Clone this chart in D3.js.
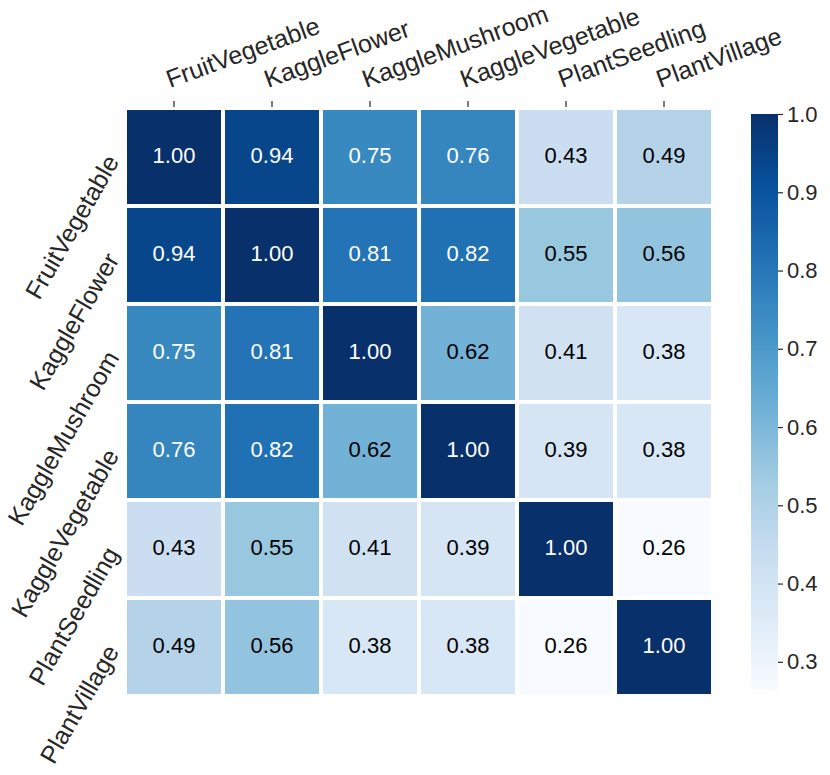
<!DOCTYPE html>
<html>
<head>
<meta charset="utf-8">
<script src="https://cdn.jsdelivr.net/npm/d3@7/dist/d3.min.js"></script>
<style>
  html, body { margin: 0; padding: 0; background: #fff; }
  svg text { font-family: "Liberation Sans", Arial, Helvetica, sans-serif; }
</style>
</head>
<body>
<svg id="chart" width="830" height="775"></svg>
<script>
// ---- data ----
const categories = ["FruitVegetable", "KaggleFlower", "KaggleMushroom", "KaggleVegetable", "PlantSeedling", "PlantVillage"];
const rowFruitVegetable  = [1.00, 0.94, 0.75, 0.76, 0.43, 0.49];
const rowKaggleFlower    = [0.94, 1.00, 0.81, 0.82, 0.55, 0.56];
const rowKaggleMushroom  = [0.75, 0.81, 1.00, 0.62, 0.41, 0.38];
const rowKaggleVegetable = [0.76, 0.82, 0.62, 1.00, 0.39, 0.38];
const rowPlantSeedling   = [0.43, 0.55, 0.41, 0.39, 1.00, 0.264];
const rowPlantVillage    = [0.49, 0.56, 0.38, 0.38, 0.264, 1.00];
const colorbarTicks = [0.3, 0.4, 0.5, 0.6, 0.7, 0.8, 0.9, 1.0];
const bluesPalette = ["#f7fbff", "#deebf7", "#c6dbef", "#9ecae1", "#6baed6", "#4292c6", "#2171b5", "#08519c", "#08306b"];

const matrix = [rowFruitVegetable, rowKaggleFlower, rowKaggleMushroom, rowKaggleVegetable, rowPlantSeedling, rowPlantVillage];
const cells = [];
matrix.forEach((row, i) => row.forEach((v, j) => cells.push({ row: categories[i], col: categories[j], value: v })));

// ---- layout ----
const svg = d3.select("#chart");
const x0 = 125, y0 = 108, size = 588;
const textColor = "#262626";
const annotSize = 22;
const labelSize = 25;

const x = d3.scaleBand().domain(categories).range([x0, x0 + size]);
const y = d3.scaleBand().domain(categories).range([y0, y0 + size]);

const allVals = cells.map(d => d.value);
const vmin = d3.min(allVals), vmax = d3.max(allVals);
const color = d3.scaleLinear()
  .domain(d3.range(bluesPalette.length).map(k => vmin + (vmax - vmin) * k / (bluesPalette.length - 1)))
  .range(bluesPalette)
  .interpolate(d3.interpolateRgb)
  .clamp(true);

function luminance(c) {
  const rgb = d3.rgb(c);
  const f = v => { v /= 255; return v <= 0.03928 ? v / 12.92 : Math.pow((v + 0.055) / 1.055, 2.4); };
  return 0.2126 * f(rgb.r) + 0.7152 * f(rgb.g) + 0.0722 * f(rgb.b);
}

// ---- cells ----
svg.append("g").selectAll("rect").data(cells).join("rect")
  .attr("x", d => x(d.col))
  .attr("y", d => y(d.row))
  .attr("width", x.bandwidth())
  .attr("height", y.bandwidth())
  .attr("fill", d => color(d.value))
  .attr("stroke", "#fff")
  .attr("stroke-width", 4);

svg.append("g").selectAll("text").data(cells).join("text")
  .attr("x", d => x(d.col) + x.bandwidth() / 2)
  .attr("y", d => y(d.row) + y.bandwidth() / 2 - 2)
  .attr("text-anchor", "middle")
  .attr("dominant-baseline", "central")
  .attr("font-size", annotSize)
  .attr("fill", d => luminance(color(d.value)) > 0.3 ? "#000" : "#fff")
  .text(d => d3.format(".2f")(d.value));

// ---- top x axis ----
const xAxis = svg.append("g");
xAxis.selectAll("line").data(categories).join("line")
  .attr("x1", d => x(d) + x.bandwidth() / 2)
  .attr("x2", d => x(d) + x.bandwidth() / 2)
  .attr("y1", y0 - 7).attr("y2", y0 - 1)
  .attr("stroke", textColor).attr("stroke-width", 1.2);
xAxis.selectAll("text").data(categories).join("text")
  .attr("transform", d => `translate(${x(d) + x.bandwidth() / 2 - 4},${y0 - 20}) rotate(-20)`)
  .attr("text-anchor", "start")
  .attr("font-size", labelSize)
  .attr("fill", textColor)
  .text(d => d);

// ---- left y labels ----
svg.append("g").selectAll("text").data(categories).join("text")
  .attr("transform", d => `translate(${x0 - 13},${y(d) + y.bandwidth() / 2}) rotate(-60)`)
  .attr("text-anchor", "end")
  .attr("dominant-baseline", "central")
  .attr("font-size", labelSize)
  .attr("fill", textColor)
  .text(d => d);

// ---- colorbar ----
const cbX = 751, cbW = 27, cbTop = 114, cbBottom = 690;
const cbScale = d3.scaleLinear().domain([vmin, vmax]).range([cbBottom, cbTop]);
const defs = svg.append("defs");
const grad = defs.append("linearGradient").attr("id", "cbgrad")
  .attr("x1", 0).attr("y1", 1).attr("x2", 0).attr("y2", 0);
grad.selectAll("stop").data(d3.range(0, 1.0001, 0.02)).join("stop")
  .attr("offset", t => t)
  .attr("stop-color", t => color(vmin + (vmax - vmin) * t));
svg.append("rect")
  .attr("x", cbX).attr("y", cbTop)
  .attr("width", cbW).attr("height", cbBottom - cbTop)
  .attr("fill", "url(#cbgrad)");

const cbAxis = d3.axisRight(cbScale).tickValues(colorbarTicks).tickFormat(d3.format(".1f")).tickSize(5).tickPadding(4);
const cbG = svg.append("g").attr("transform", `translate(${cbX + cbW},0)`).call(cbAxis);
cbG.select(".domain").remove();
cbG.selectAll("line").attr("stroke", textColor).attr("stroke-width", 1.2);
cbG.selectAll("text").attr("font-size", 22).attr("fill", textColor)
  .attr("font-family", "Liberation Sans, Arial, sans-serif");
</script>
</body>
</html>
